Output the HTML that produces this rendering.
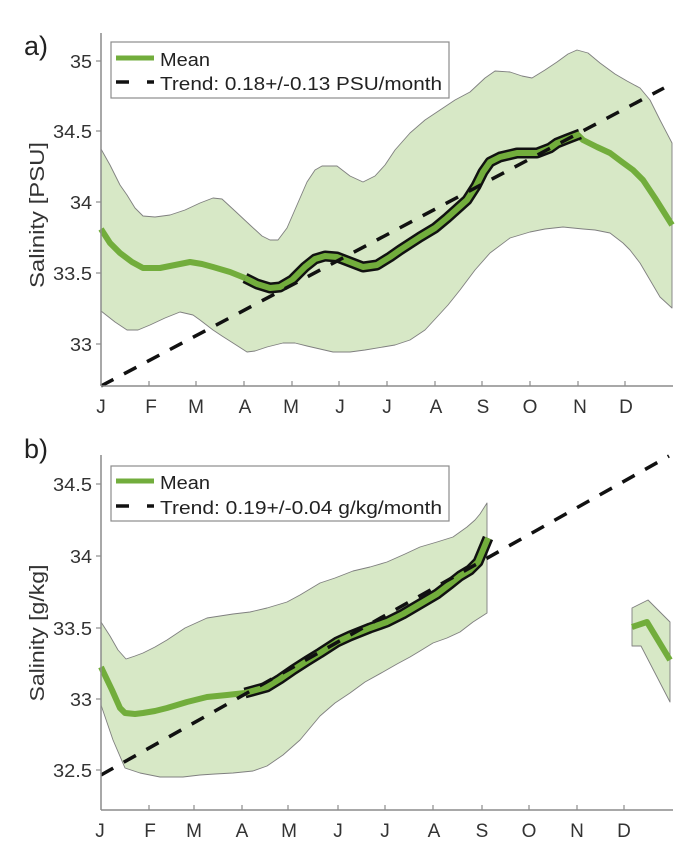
<!DOCTYPE html>
<html>
<head>
<meta charset="utf-8">
<style>
html,body{margin:0;padding:0;background:#fff;}
svg{display:block;}
text{font-family:"Liberation Sans",Arial,sans-serif;fill:#333;}
</style>
</head>
<body>
<svg width="700" height="861" viewBox="0 0 700 861" xmlns="http://www.w3.org/2000/svg">
<!-- ================= PANEL A ================= -->
<text x="24" y="55" font-size="27" style="fill:#222">a)</text>

<path d="M101,149 L110,165 L120,185 L127,195 L135,208 L143,216 L155,217 L170,215 L185,210 L200,203 L213,198 L222,199 L235,211 L250,225 L262,236 L270,240 L278,240 L287,228 L297,205 L307,182 L315,170 L322,166 L337,166 L350,176 L363,182 L375,176 L385,165 L395,150 L410,133 L425,120 L440,110 L455,100 L470,92 L485,78 L495,71 L510,72 L522,76 L532,78 L545,70 L557,62 L568,54 L577,50 L588,53 L600,63 L615,74 L627,81 L640,88 L650,100 L660,120 L672,143 L672,308 L660,297 L650,280 L640,263 L630,250 L623,243 L610,233 L595,230 L583,229 L563,227 L545,229 L530,232 L510,238 L490,253 L475,270 L460,290 L448,305 L437,317 L425,330 L410,340 L395,345 L383,347 L365,350 L350,352 L333,352 L320,349 L307,346 L295,343 L283,343 L267,347 L255,351 L247,352 L233,343 L222,336 L213,330 L200,320 L193,315 L180,312 L165,318 L150,325 L138,330 L127,330 L115,322 L101,311 Z" fill="#d7e8c6" stroke="#7f7f7f" stroke-width="0.9" stroke-linejoin="round"/>

<polyline points="101,229 110,243 120,253 132,262 143,268 160,268 175,265 190,262 202,264 213,267 230,272 245,278" fill="none" stroke="#72ad3c" stroke-width="6" stroke-linejoin="round"/>
<polyline points="578,135 583,140 597,147 610,153 622,162 633,170 643,180 655,198 672,225" fill="none" stroke="#72ad3c" stroke-width="6" stroke-linejoin="round"/>
<polyline points="245,278 257,284 270,288 280,287 292,280 305,267 315,259 325,256 337,257 350,262 363,267 377,265 390,257 400,250 420,237 435,228 447,218 457,209 467,200 476,186 483,172 490,162 500,157 517,153 537,153 550,148 557,143 567,139 580,134" fill="none" stroke="#111" stroke-width="11" stroke-linejoin="round"/>
<polyline points="245,278 257,284 270,288 280,287 292,280 305,267 315,259 325,256 337,257 350,262 363,267 377,265 390,257 400,250 420,237 435,228 447,218 457,209 467,200 476,186 483,172 490,162 500,157 517,153 537,153 550,148 557,143 567,139 580,134" fill="none" stroke="#72ad3c" stroke-width="6" stroke-linejoin="round"/>

<line x1="101" y1="386" x2="664" y2="88" stroke="#111" stroke-width="3.5" stroke-dasharray="14 12"/>

<line x1="101" y1="33" x2="101" y2="386" stroke="#8c8c8c" stroke-width="1.5"/>
<line x1="101" y1="386" x2="673" y2="386" stroke="#8c8c8c" stroke-width="1.5"/>
<g stroke="#8c8c8c" stroke-width="1.2">
<line x1="96" y1="61" x2="101" y2="61"/>
<line x1="96" y1="131" x2="101" y2="131"/>
<line x1="96" y1="202" x2="101" y2="202"/>
<line x1="96" y1="273" x2="101" y2="273"/>
<line x1="96" y1="344" x2="101" y2="344"/>
<line x1="149" y1="381" x2="149" y2="386"/>
<line x1="196" y1="381" x2="196" y2="386"/>
<line x1="244" y1="381" x2="244" y2="386"/>
<line x1="292" y1="381" x2="292" y2="386"/>
<line x1="339" y1="381" x2="339" y2="386"/>
<line x1="387" y1="381" x2="387" y2="386"/>
<line x1="435" y1="381" x2="435" y2="386"/>
<line x1="482" y1="381" x2="482" y2="386"/>
<line x1="530" y1="381" x2="530" y2="386"/>
<line x1="578" y1="381" x2="578" y2="386"/>
<line x1="625" y1="381" x2="625" y2="386"/>
</g>
<g font-size="18" text-anchor="end">
<text x="92" y="68" textLength="22" lengthAdjust="spacingAndGlyphs">35</text>
<text x="92" y="138" textLength="39" lengthAdjust="spacingAndGlyphs">34.5</text>
<text x="92" y="209" textLength="22" lengthAdjust="spacingAndGlyphs">34</text>
<text x="92" y="280" textLength="39" lengthAdjust="spacingAndGlyphs">33.5</text>
<text x="92" y="351" textLength="22" lengthAdjust="spacingAndGlyphs">33</text>
</g>
<g font-size="19" text-anchor="middle">
<text x="101" y="413">J</text>
<text x="151" y="413">F</text>
<text x="196" y="413">M</text>
<text x="245" y="413">A</text>
<text x="291" y="413">M</text>
<text x="340" y="413">J</text>
<text x="387" y="413">J</text>
<text x="436" y="413">A</text>
<text x="483" y="413">S</text>
<text x="530" y="413">O</text>
<text x="580" y="413">N</text>
<text x="626" y="413">D</text>
</g>
<text transform="translate(44,215) rotate(-90)" font-size="20" text-anchor="middle" textLength="146" lengthAdjust="spacingAndGlyphs">Salinity [PSU]</text>

<rect x="111" y="42" width="338" height="56" fill="#fff" stroke="#8c8c8c" stroke-width="1.2"/>
<line x1="116" y1="58" x2="154" y2="58" stroke="#72ad3c" stroke-width="5"/>
<text x="160" y="66" font-size="18" textLength="50" lengthAdjust="spacingAndGlyphs" style="fill:#222">Mean</text>
<line x1="116" y1="82" x2="129" y2="82" stroke="#111" stroke-width="3.5"/>
<line x1="147" y1="82" x2="154" y2="82" stroke="#111" stroke-width="3.5"/>
<text x="160" y="90" font-size="18" textLength="282" lengthAdjust="spacingAndGlyphs" style="fill:#222">Trend: 0.18+/-0.13 PSU/month</text>

<!-- ================= PANEL B ================= -->
<text x="24" y="458" font-size="27" style="fill:#222">b)</text>

<path d="M101,622 L110,636 L118,650 L126,659 L135,656 L143,653 L155,647 L167,640 L185,628 L207,618 L233,614 L250,612 L267,608 L287,602 L300,595 L320,583 L335,578 L353,571 L370,567 L387,562 L405,554 L420,547 L437,542 L453,537 L467,527 L475,520 L480,514 L487,503 L487,613 L473,622 L460,632 L447,638 L433,643 L420,651 L410,657 L397,664 L383,672 L365,682 L350,693 L335,703 L320,716 L300,740 L283,755 L267,766 L253,771 L233,773 L215,774 L200,775 L183,777 L160,777 L140,773 L125,768 L113,740 L101,705 Z" fill="#d7e8c6" stroke="#7f7f7f" stroke-width="0.9" stroke-linejoin="round"/>
<path d="M632,608 L648,600 L670,622 L670,702 L641,646 L632,646 Z" fill="#d7e8c6" stroke="#7f7f7f" stroke-width="0.9" stroke-linejoin="round"/>

<polyline points="101,667 112,690 120,708 125,713 135,714 143,713 155,711 167,708 187,702 207,697 227,695 245,693" fill="none" stroke="#72ad3c" stroke-width="6" stroke-linejoin="round"/>
<polyline points="245,693 267,687 280,679 293,670 307,661 320,653 337,642 350,636 370,628 387,622 403,614 420,604 437,594 450,584 460,576 470,570 478,562 483,550 488,538" fill="none" stroke="#111" stroke-width="11" stroke-linejoin="round"/>
<polyline points="245,693 267,687 280,679 293,670 307,661 320,653 337,642 350,636 370,628 387,622 403,614 420,604 437,594 450,584 460,576 470,570 478,562 483,550 488,538" fill="none" stroke="#72ad3c" stroke-width="6" stroke-linejoin="round"/>
<polyline points="632,627 647,622 670,660" fill="none" stroke="#72ad3c" stroke-width="6" stroke-linejoin="round"/>

<line x1="101" y1="775" x2="669" y2="456" stroke="#111" stroke-width="3.5" stroke-dasharray="14 12"/>

<line x1="101" y1="455" x2="101" y2="810" stroke="#8c8c8c" stroke-width="1.5"/>
<line x1="101" y1="810" x2="673" y2="810" stroke="#8c8c8c" stroke-width="1.5"/>
<g stroke="#8c8c8c" stroke-width="1.2">
<line x1="96" y1="484" x2="101" y2="484"/>
<line x1="96" y1="556" x2="101" y2="556"/>
<line x1="96" y1="628" x2="101" y2="628"/>
<line x1="96" y1="699" x2="101" y2="699"/>
<line x1="96" y1="770" x2="101" y2="770"/>
<line x1="149" y1="805" x2="149" y2="810"/>
<line x1="194" y1="805" x2="194" y2="810"/>
<line x1="242" y1="805" x2="242" y2="810"/>
<line x1="288" y1="805" x2="288" y2="810"/>
<line x1="338" y1="805" x2="338" y2="810"/>
<line x1="385" y1="805" x2="385" y2="810"/>
<line x1="433" y1="805" x2="433" y2="810"/>
<line x1="482" y1="805" x2="482" y2="810"/>
<line x1="529" y1="805" x2="529" y2="810"/>
<line x1="577" y1="805" x2="577" y2="810"/>
<line x1="624" y1="805" x2="624" y2="810"/>
</g>
<g font-size="18" text-anchor="end">
<text x="92" y="491" textLength="39" lengthAdjust="spacingAndGlyphs">34.5</text>
<text x="92" y="563" textLength="22" lengthAdjust="spacingAndGlyphs">34</text>
<text x="92" y="635" textLength="39" lengthAdjust="spacingAndGlyphs">33.5</text>
<text x="92" y="706" textLength="22" lengthAdjust="spacingAndGlyphs">33</text>
<text x="92" y="777" textLength="39" lengthAdjust="spacingAndGlyphs">32.5</text>
</g>
<g font-size="19" text-anchor="middle">
<text x="100" y="837">J</text>
<text x="150" y="837">F</text>
<text x="194" y="837">M</text>
<text x="242" y="837">A</text>
<text x="289" y="837">M</text>
<text x="338" y="837">J</text>
<text x="385" y="837">J</text>
<text x="434" y="837">A</text>
<text x="482" y="837">S</text>
<text x="529" y="837">O</text>
<text x="577" y="837">N</text>
<text x="624" y="837">D</text>
</g>
<text transform="translate(44,633) rotate(-90)" font-size="20" text-anchor="middle" textLength="137" lengthAdjust="spacingAndGlyphs">Salinity [g/kg]</text>

<rect x="111" y="466" width="338" height="55" fill="#fff" stroke="#8c8c8c" stroke-width="1.2"/>
<line x1="116" y1="481" x2="154" y2="481" stroke="#72ad3c" stroke-width="5"/>
<text x="160" y="489" font-size="18" textLength="50" lengthAdjust="spacingAndGlyphs" style="fill:#222">Mean</text>
<line x1="116" y1="506" x2="129" y2="506" stroke="#111" stroke-width="3.5"/>
<line x1="147" y1="506" x2="154" y2="506" stroke="#111" stroke-width="3.5"/>
<text x="160" y="514" font-size="18" textLength="282" lengthAdjust="spacingAndGlyphs" style="fill:#222">Trend: 0.19+/-0.04 g/kg/month</text>
</svg>
</body>
</html>
